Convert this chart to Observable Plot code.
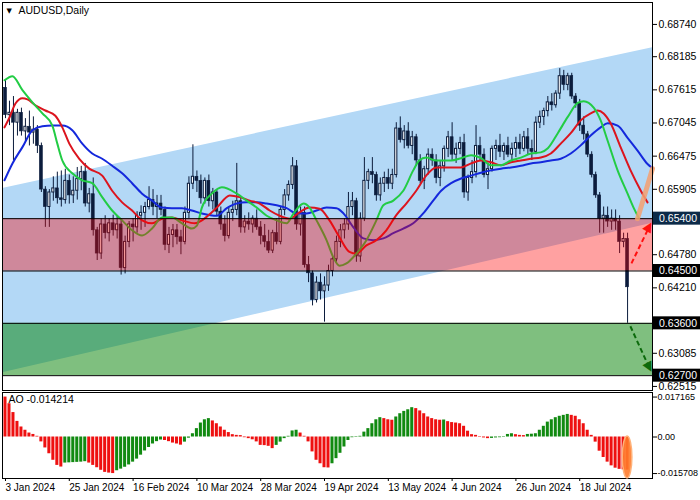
<!DOCTYPE html>
<html><head><meta charset="utf-8">
<script src="https://cdn.jsdelivr.net/npm/d3@7"></script>
<script src="https://cdn.jsdelivr.net/npm/@observablehq/plot@0.6"></script>
<style>
html,body{margin:0;padding:0;background:#fff;}
#wrap{position:relative;width:700px;height:500px;overflow:hidden;background:#fff;}
#wrap svg{position:absolute;left:0;display:block;}
</style></head>
<body><div id="wrap"></div>
<script>
// ---- candle data (AUDUSD daily, bar index 0 = 3 Jan 2024) ----
const O = [.6765,.6718,.6722,.6705,.6722,.6690,.6698,.6688,.6693,.6665,.6590,.6560,.6585,.6592,.6575,.6572,.6605,.6580,.6588,.6608,.6620,.6566,.6582,.6520,.6480,.6530,.6515,.6532,.6520,.6530,.6455,.6500,.6530,.6525,.6545,.6550,.6560,.6572,.6560,.6566,.6555,.6495,.6512,.6520,.6508,.6500,.6550,.6600,.6612,.6605,.6575,.6605,.6570,.6585,.6552,.6530,.6510,.6550,.6555,.6570,.6525,.6535,.6530,.6540,.6525,.6510,.6500,.6485,.6515,.6500,.6555,.6580,.6598,.6630,.6530,.6550,.6460,.6446,.6400,.6430,.6415,.6425,.6450,.6470,.6500,.6520,.6530,.6560,.6570,.6475,.6540,.6605,.6620,.6615,.6580,.6600,.6610,.6600,.6615,.6695,.6675,.6690,.6665,.6680,.6640,.6605,.6625,.6650,.6640,.6610,.6630,.6660,.6680,.6650,.6660,.6670,.6585,.6610,.6620,.6665,.6650,.6615,.6625,.6660,.6665,.6655,.6665,.6650,.6660,.6670,.6660,.6680,.6660,.6655,.6705,.6715,.6725,.6740,.6735,.6755,.6785,.6770,.6785,.6750,.6738,.6700,.6685,.6650,.6615,.6580,.6540,.6545,.6535,.6540,.6535,.6500,.6505];
const H = [.6778,.6742,.6750,.6728,.6730,.6712,.6725,.6715,.6700,.6670,.6595,.6590,.6612,.6620,.6622,.6625,.6615,.6612,.6628,.6630,.6635,.6592,.6610,.6525,.6540,.6545,.6540,.6546,.6545,.6540,.6510,.6535,.6540,.6552,.6562,.6568,.6595,.6590,.6580,.6580,.6560,.6525,.6530,.6530,.6520,.6560,.6612,.6667,.6622,.6615,.6610,.6615,.6592,.6590,.6560,.6545,.6560,.6570,.6635,.6575,.6545,.6550,.6545,.6555,.6535,.6530,.6520,.6520,.6540,.6560,.6590,.6605,.6645,.6640,.6560,.6560,.6475,.6450,.6440,.6445,.6440,.6460,.6478,.6510,.6530,.6540,.6585,.6585,.6575,.6550,.6645,.6625,.6645,.6620,.6610,.6620,.6625,.6625,.6705,.6715,.6700,.6705,.6690,.6685,.6650,.6630,.6660,.6660,.6650,.6640,.6665,.6690,.6705,.6670,.6680,.6685,.6615,.6640,.6700,.6680,.6660,.6635,.6665,.6675,.6685,.6670,.6680,.6670,.6680,.6685,.6690,.6695,.6675,.6715,.6725,.6730,.6750,.6755,.6760,.6798,.6795,.6790,.6790,.6755,.6745,.6715,.6690,.6655,.6620,.6585,.6560,.6560,.6555,.6555,.6545,.6515,.6515];
const L = [.6712,.6700,.6640,.6682,.6682,.6672,.6665,.6668,.6652,.6585,.6525,.6525,.6570,.6565,.6560,.6565,.6565,.6566,.6572,.6588,.6560,.6550,.6510,.6468,.6470,.6505,.6500,.6510,.6505,.6443,.6445,.6490,.6500,.6515,.6520,.6525,.6555,.6545,.6540,.6545,.6485,.6480,.6490,.6495,.6478,.6495,.6540,.6590,.6585,.6565,.6565,.6560,.6555,.6545,.6520,.6500,.6505,.6535,.6545,.6515,.6515,.6520,.6515,.6520,.6495,.6490,.6480,.6480,.6495,.6495,.6545,.6570,.6590,.6520,.6510,.6455,.6430,.6390,.6395,.6400,.6362,.6415,.6440,.6465,.6490,.6505,.6520,.6545,.6465,.6465,.6535,.6590,.6600,.6570,.6570,.6585,.6590,.6590,.6610,.6670,.6660,.6660,.6650,.6630,.6600,.6590,.6615,.6630,.6600,.6595,.6620,.6645,.6640,.6635,.6650,.6575,.6570,.6600,.6610,.6640,.6610,.6590,.6620,.6640,.6645,.6640,.6645,.6640,.6645,.6650,.6655,.6650,.6640,.6650,.6695,.6700,.6715,.6725,.6730,.6745,.6760,.6760,.6745,.6730,.6690,.6675,.6645,.6610,.6575,.6515,.6515,.6525,.6520,.6520,.6480,.6490,.6360];
const C = [.6718,.6722,.6705,.6722,.6690,.6698,.6688,.6693,.6665,.6590,.6560,.6585,.6592,.6575,.6572,.6605,.6580,.6588,.6608,.6620,.6566,.6582,.6520,.6480,.6530,.6515,.6532,.6520,.6530,.6455,.6500,.6530,.6525,.6545,.6550,.6560,.6572,.6560,.6566,.6555,.6495,.6512,.6520,.6508,.6500,.6550,.6600,.6612,.6605,.6575,.6605,.6570,.6585,.6552,.6530,.6510,.6550,.6555,.6570,.6525,.6535,.6530,.6540,.6525,.6510,.6500,.6485,.6515,.6500,.6555,.6580,.6598,.6630,.6530,.6550,.6460,.6446,.6400,.6430,.6415,.6425,.6450,.6470,.6500,.6520,.6530,.6560,.6570,.6475,.6540,.6605,.6620,.6615,.6580,.6600,.6610,.6600,.6615,.6695,.6675,.6690,.6665,.6680,.6640,.6605,.6625,.6650,.6640,.6610,.6630,.6660,.6680,.6650,.6660,.6670,.6585,.6610,.6620,.6665,.6650,.6615,.6625,.6660,.6665,.6655,.6665,.6650,.6660,.6670,.6660,.6680,.6660,.6655,.6705,.6715,.6725,.6740,.6735,.6755,.6785,.6770,.6785,.6750,.6738,.6700,.6685,.6650,.6615,.6580,.6540,.6545,.6535,.6540,.6535,.6500,.6505,.6422];

// ---- Alligator lines (bar index, price) ----
const jawI = [-0.25,1.75,4.25,6.75,9.25,11.75,14.25,16.75,19.25,21.75,24.25,26.75,29.25,31.75,34.25,36.75,39.25,41.75,44.25,46.75,49.25,53,55.5,58,60.5,63,65.5,68,70.5,73,75.5,78,80.5,83,84.75,87.25,89.75,92.25,94.75,97.25,99.75,102.25,104.75,107.25,109.25,111.75,114.25,116.75,119.25,121.75,124.25,126.75,129.25,131.75,134.25,136.75,139.25,141.75,144.25,146.75,149.25,151,153.5,156,158.5,161,162.25];
const jawP = [.6606,.6635,.6663,.6692,.6699,.6700,.6700,.6692,.6669,.6652,.6643,.6631,.6618,.6601,.6583,.6571,.6559,.6558,.6558,.6554,.6549,.6545,.6558,.6566,.6568,.6568,.6566,.6563,.6558,.6549,.6549,.6554,.6559,.6558,.6549,.6525,.6506,.6503,.6506,.6515,.6523,.6532,.6549,.6571,.6588,.6601,.6609,.6614,.6619,.6623,.6626,.6628,.6631,.6635,.6637,.6640,.6643,.6652,.6666,.6683,.6697,.6704,.6700,.6679,.6657,.6634,.6627];
const teethI = [-0.25,1,2.5,4.25,5.5,7.5,10,12.5,14.25,16,18.5,21,24.25,26.75,29.25,31.75,34.25,36.75,39.25,41.75,44.25,47.5,49.25,51.75,53,56.25,58.75,61.25,63.75,66.25,68.75,71.25,73.75,76.25,78.75,81.25,83.75,86.25,88,90.5,93,95.5,98,100.5,103,105.5,108,111.75,114.25,116.75,119.25,121.75,124.25,126.75,129.25,131.75,134.25,136.75,139.25,141.75,144.25,146.75,148.5,150,151.75,154.25,156.75,159.25,161];
const teethP = [.6697,.6714,.6738,.6747,.6745,.6735,.6726,.6717,.6697,.6669,.6643,.6626,.6614,.6588,.6568,.6554,.6537,.6532,.6540,.6542,.6537,.6532,.6537,.6551,.6559,.6580,.6577,.6571,.6566,.6554,.6545,.6540,.6551,.6559,.6557,.6537,.6508,.6483,.6480,.6494,.6503,.6520,.6546,.6566,.6588,.6614,.6628,.6628,.6628,.6635,.6640,.6637,.6632,.6637,.6640,.6643,.6645,.6652,.6669,.6687,.6709,.6721,.6726,.6721,.6704,.6663,.6623,.6589,.6568];
const lipsI = [-0.25,1.75,4.25,6.75,9.25,11.75,13,14.25,16.75,19.25,21.75,24.25,26.75,29.25,31.75,34.25,36.75,39.25,41.75,44.25,46.75,48,49.25,51.75,54.25,58,60.5,63,65.5,68,70.5,72.25,74.75,76.25,78,80.5,82.25,83.75,85.5,88,90.5,93,94.75,97.25,99.75,102.25,103.75,105.5,108,111.75,114.25,116.75,119.25,121.75,124.25,126.75,129.25,131.75,134.25,136,138.5,141,143.5,145,147.5,149.25,151,153.5,156,157.5,158.75];
const lipsP = [.6778,.6785,.6761,.6740,.6721,.6700,.6669,.6640,.6618,.6606,.6601,.6577,.6554,.6537,.6520,.6511,.6523,.6542,.6542,.6532,.6523,.6528,.6559,.6583,.6594,.6583,.6571,.6559,.6545,.6537,.6532,.6549,.6566,.6559,.6537,.6503,.6473,.6459,.6463,.6480,.6503,.6537,.6563,.6571,.6588,.6623,.6640,.6645,.6640,.6640,.6644,.6649,.6644,.6632,.6632,.6640,.6645,.6652,.6654,.6661,.6687,.6715,.6739,.6742,.6731,.6709,.6674,.6623,.6583,.6559,.6542];

// ---- Awesome Oscillator values ----
const AO = [.01716,.0143,.0105,.0067,.0043,.0029,.0017,.0011,.0003,-.0021,-.0047,-.0072,-.0100,-.0122,-.0129,-.0112,-.0111,-.0110,-.0109,-.0108,-.0106,-.0112,-.0122,-.0132,-.0143,-.0152,-.0155,-.015708,-.0145,-.0138,-.0130,-.0120,-.0108,-.0095,-.0078,-.0060,-.0045,-.0030,-.0020,-.0013,-.0015,-.0020,-.0026,-.0030,-.0035,-.0022,-.0005,.0014,.0036,.0060,.0074,.0079,.0069,.0057,.0043,.0029,.0019,.0010,.0007,.0006,-.0003,-.0007,-.0012,-.0021,-.0036,-.0037,-.0040,-.0050,-.0036,-.0022,-.0007,.0003,.0026,.0029,.0017,.0003,-.0021,-.0064,-.0100,-.0115,-.0132,-.0133,-.0115,-.0093,-.0070,-.0043,-.0015,-.0003,-.0002,.0003,.0021,.0036,.0057,.0074,.0083,.0079,.0074,.0072,.0086,.0100,.0110,.0117,.0126,.0122,.0112,.0100,.0086,.0079,.0074,.0072,.0073,.0066,.0062,.0060,.0057,.0046,.0025,.0010,.0007,.0002,-.0004,-.0007,-.0006,-.0004,-.0003,.0002,.0011,.0014,.0010,.0007,.0006,.0011,.0012,.0014,.0029,.0046,.0064,.0074,.0083,.0089,.0093,.0097,.0093,.0089,.0074,.0057,.0029,.0007,-.0022,-.0061,-.0088,-.0108,-.0124,-.0134,-.0139,-.0141,-.014214];

// ---- levels, zones, channel, projections ----
const zoneLo = [0.645, 0.627];
const zoneHi = [0.654, 0.636];
const levelValues = [0.654, 0.645, 0.636, 0.627];
const channelI = [-0.75, 162.25];
const channelLo = [0.6275, 0.6532];
const channelHi = [0.6592, 0.6834];
const projI = [158.5, 162.25];
const projP = [0.6540, 0.6626];
const upArrow = {i1: 156.97, p1: 0.6463, i2: 161.5, p2: 0.6527};
const downArrow = {i1: 156.7, p1: 0.6355, i2: 161.5, p2: 0.6283};

const priceTicks = [0.68740,0.68185,0.67615,0.67045,0.66475,0.65905,0.64780,0.64210,0.63085,0.62515];
const aoTicks = [0.017165, 0, -0.015708];
const aoTickLabels = ["0.017165", "0.00", "-0.015708"];
const dateTicks = [0,16,32,48,64,80,96,112,128,144];
const dateLabels = ["3 Jan 2024","25 Jan 2024","16 Feb 2024","10 Mar 2024","28 Mar 2024","19 Apr 2024","13 May 2024","4 Jun 2024","26 Jun 2024","18 Jul 2024"];
const title = "AUDUSD,Daily";
const aoTitle = "AO -0.014214";

// ---- build tables ----
const FONT = "'Liberation Sans', Arial, sans-serif";
const navy = "#0b1c3c";
const candles = O.map((o, i) => ({i, o, h: H[i], l: L[i], c: C[i], up: C[i] >= o}));
const line = (I, P) => I.map((x, k) => ({i: x, p: P[k]}));
const jaw = line(jawI, jawP), teeth = line(teethI, teethP), lips = line(lipsI, lipsP);
const channel = channelI.map((x, k) => ({i: x, lo: channelLo[k], hi: channelHi[k]}));
const zones = [{lo: zoneLo[0], hi: zoneHi[0], fill: "#ff0000", op: 0.37}, {lo: zoneLo[1], hi: zoneHi[1], fill: "#008000", op: 0.5}];
const proj = line(projI, projP);
const aoData = AO.map((v, i) => ({i, v, col: (i > 0 && v > AO[i - 1]) ? "#118a11" : "#ee1010"}));
const xDomain = [-0.75, 162.25];

const main = Plot.plot({
  width: 700, height: 391, marginLeft: 2, marginRight: 48, marginTop: 2, marginBottom: 1,
  style: {fontFamily: FONT, fontSize: "10.5px", color: "#000", background: "transparent"},
  x: {domain: xDomain, axis: null},
  y: {domain: [0.62445, 0.69117]},
  marks: [
    Plot.areaY(channel, {x: "i", y1: "lo", y2: "hi", fill: "#b3d8f6"}),
    Plot.ruleX(candles, {x: "i", y1: "l", y2: "h", stroke: navy, strokeWidth: 1}),
    Plot.rect(candles.filter(d => !d.up), {x1: d => d.i - 0.37, x2: d => d.i + 0.37, y1: "o", y2: "c", fill: navy, stroke: navy, strokeWidth: 0.6}),
    Plot.rect(candles.filter(d => d.up), {x1: d => d.i - 0.27, x2: d => d.i + 0.27, y1: "o", y2: "c", fill: "white", stroke: navy, strokeWidth: 1}),
    Plot.line(jaw, {x: "i", y: "p", stroke: "#1428dc", strokeWidth: 2, curve: "monotone-x"}),
    Plot.line(teeth, {x: "i", y: "p", stroke: "#dc141e", strokeWidth: 2, curve: "monotone-x"}),
    Plot.line(lips, {x: "i", y: "p", stroke: "#22cc44", strokeWidth: 2, curve: "monotone-x"}),
    Plot.rect(zones, {y1: "lo", y2: "hi", fill: "fill", fillOpacity: "op"}),
    Plot.ruleY(levelValues, {stroke: "#000", strokeWidth: 1}),
    Plot.line(proj, {x: "i", y: "p", stroke: "#f4a070", strokeWidth: 5, strokeOpacity: 0.85}),
    Plot.link([upArrow], {x1: "i1", y1: "p1", x2: "i2", y2: "p2", stroke: "#ff1010", strokeWidth: 2, strokeDasharray: "5,3"}),
    Plot.link([downArrow], {x1: "i1", y1: "p1", x2: "i2", y2: "p2", stroke: "#0c6a0c", strokeWidth: 2, strokeDasharray: "5,3"}),
    Plot.text([upArrow], {x: "i2", y: "p2", text: () => "▲", rotate: 30, fill: "#ff1010", fontSize: 13, fontFamily: "DejaVu Sans", lineAnchor: "middle"}),
    Plot.text([downArrow], {x: "i2", y: "p2", text: () => "▲", rotate: 152, fill: "#0c6a0c", fontSize: 13, fontFamily: "DejaVu Sans", lineAnchor: "middle"}),
    Plot.axisY(priceTicks, {anchor: "right", tickSize: 4, tickPadding: 2, tickFormat: d => d.toFixed(5), fontSize: 10.5, label: null}),
    Plot.text([title], {frameAnchor: "top-left", dx: 16, dy: 4, fontSize: 10.5, textAnchor: "start", lineAnchor: "top"}),
    Plot.text(["▼"], {frameAnchor: "top-left", dx: 4, dy: 6, fontSize: 7, fontFamily: "DejaVu Sans", textAnchor: "start", lineAnchor: "top"}),
    Plot.frame({stroke: "#000"})
  ]
});
main.style.top = "0px";
document.getElementById("wrap").appendChild(main);

// level price boxes on the right axis
{
  const ys = main.scale("y");
  const g = d3.select(main).append("g");
  levelValues.forEach((v, k) => {
    const y = ys.apply(v);
    g.append("rect").attr("x", 653).attr("y", y - 6.5).attr("width", 47).attr("height", 13)
      .attr("fill", k === 0 ? "#0c2a48" : "#000");
    g.append("text").attr("x", 697).attr("y", y).attr("dy", "0.36em").attr("text-anchor", "end")
      .attr("fill", "#fff").attr("stroke", "none").attr("font-family", FONT).attr("font-size", 10.5).text(v.toFixed(5));
  });
}

const aoChart = Plot.plot({
  width: 700, height: 109, marginLeft: 2, marginRight: 48, marginTop: 1, marginBottom: 22,
  style: {fontFamily: FONT, fontSize: "10.5px", color: "#000", background: "transparent"},
  x: {domain: xDomain},
  y: {domain: [-0.01783, 0.01912]},
  marks: [
    Plot.rect(aoData, {x1: d => d.i - 0.38, x2: d => d.i + 0.38, y1: () => 0, y2: "v", fill: "col"}),
    Plot.axisY(aoTicks, {anchor: "right", tickSize: 4, tickPadding: 1, tickFormat: d => aoTickLabels[aoTicks.indexOf(d)], fontSize: 9, label: null}),
    Plot.axisX(dateTicks, {anchor: "bottom", tickSize: 3, tickPadding: 2, tickFormat: d => dateLabels[dateTicks.indexOf(d)], textAnchor: "start", fontSize: 10, label: null}),
    Plot.text([aoTitle], {frameAnchor: "top-left", dx: 6, dy: 3, fontSize: 10.5, textAnchor: "start", lineAnchor: "top"}),
    Plot.frame({stroke: "#000"})
  ]
});
aoChart.style.top = "391px";
document.getElementById("wrap").appendChild(aoChart);

// highlight ellipse around the latest AO bar
{
  const xs = aoChart.scale("x"), ys = aoChart.scale("y");
  const last = aoData[aoData.length - 1];
  const yTop = ys.apply(0.0002), yBot = ys.apply(-0.01783);
  d3.select(aoChart).append("ellipse")
    .attr("cx", xs.apply(last.i)).attr("cy", (yTop + yBot) / 2)
    .attr("rx", 4.8).attr("ry", (yBot - yTop) / 2)
    .attr("fill", "#ff7a2a").attr("fill-opacity", 0.9)
    .attr("stroke", "#ffb27a").attr("stroke-width", 1.5);
}
</script>
</body></html>
